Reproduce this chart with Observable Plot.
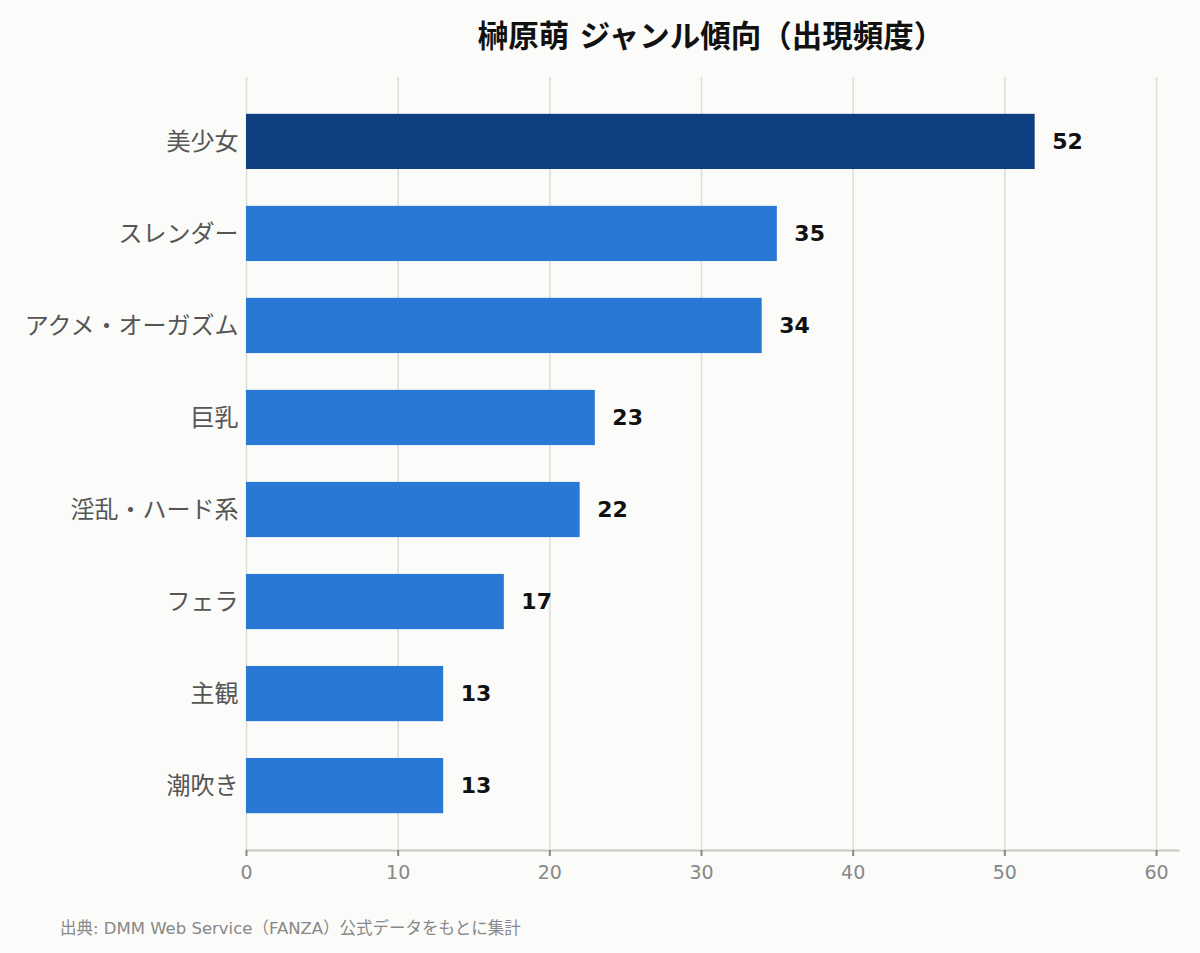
<!DOCTYPE html>
<html>
<head>
<meta charset="utf-8">
<script src="https://cdn.jsdelivr.net/npm/d3@7"></script>
<script src="https://cdn.jsdelivr.net/npm/@observablehq/plot@0.6"></script>
<style>
  html, body { margin: 0; padding: 0; background: #fbfbf9; }
  body { width: 1200px; height: 953px; font-family: "DejaVu Sans", "Noto Sans CJK JP", sans-serif; }
  #title { height: 74px; line-height: 74px; font-size: 30.5px; font-weight: bold; color: #111; padding-left: 222px; text-align: center; width: 978px; }
  #caption { margin-top: 14px; line-height: 22px; font-size: 16.5px; color: #888; padding-left: 60px; }
  svg { display: block; }
</style>
</head>
<body>
<div id="title">榊原萌 ジャンル傾向（出現頻度）</div>
<div id="chart"></div>
<div id="caption">出典: DMM Web Service（FANZA）公式データをもとに集計</div>
<script>
const categories = ["美少女", "スレンダー", "アクメ・オーガズム", "巨乳", "淫乱・ハード系", "フェラ", "主観", "潮吹き"];
const counts = [52, 35, 34, 23, 22, 17, 13, 13];
const xTicks = [0, 10, 20, 30, 40, 50, 60];

const data = categories.map((c, i) => ({genre: c, count: counts[i], top: i === 0}));

const chart = Plot.plot({
  width: 1200,
  height: 830,
  marginTop: 3,
  marginBottom: 54,
  marginLeft: 246,
  marginRight: 22,
  style: {background: "transparent", fontFamily: "'DejaVu Sans', 'Noto Sans CJK JP', sans-serif", fontSize: "20px"},
  x: {domain: [0, 61.45], ticks: xTicks},
  y: {domain: categories, padding: 0.4, round: false},
  marks: [
    Plot.gridX(xTicks, {stroke: "#dedcd6", strokeOpacity: 1, strokeWidth: 1.5}),
    Plot.barX(data, {y: "genre", x: "count", fill: d => d.top ? "#0f3f80" : "#2a78d6"}),
    Plot.text(data, {y: "genre", x: "count", text: d => String(d.count), dx: 17, textAnchor: "start", fontSize: 22, fontWeight: "bold", fill: "#111"}),
    Plot.frame({anchor: "bottom", stroke: "#c8c8c0", strokeWidth: 2}),
    Plot.axisX({ticks: xTicks, tickSize: 6, tickPadding: 9, fontSize: 19, color: "#888", stroke: "#888", strokeWidth: 2, label: null}),
    Plot.axisY({tickSize: 0, tickPadding: 8, fontSize: 24, color: "#555", label: null})
  ]
});
document.getElementById("chart").appendChild(chart);
</script>
</body>
</html>
